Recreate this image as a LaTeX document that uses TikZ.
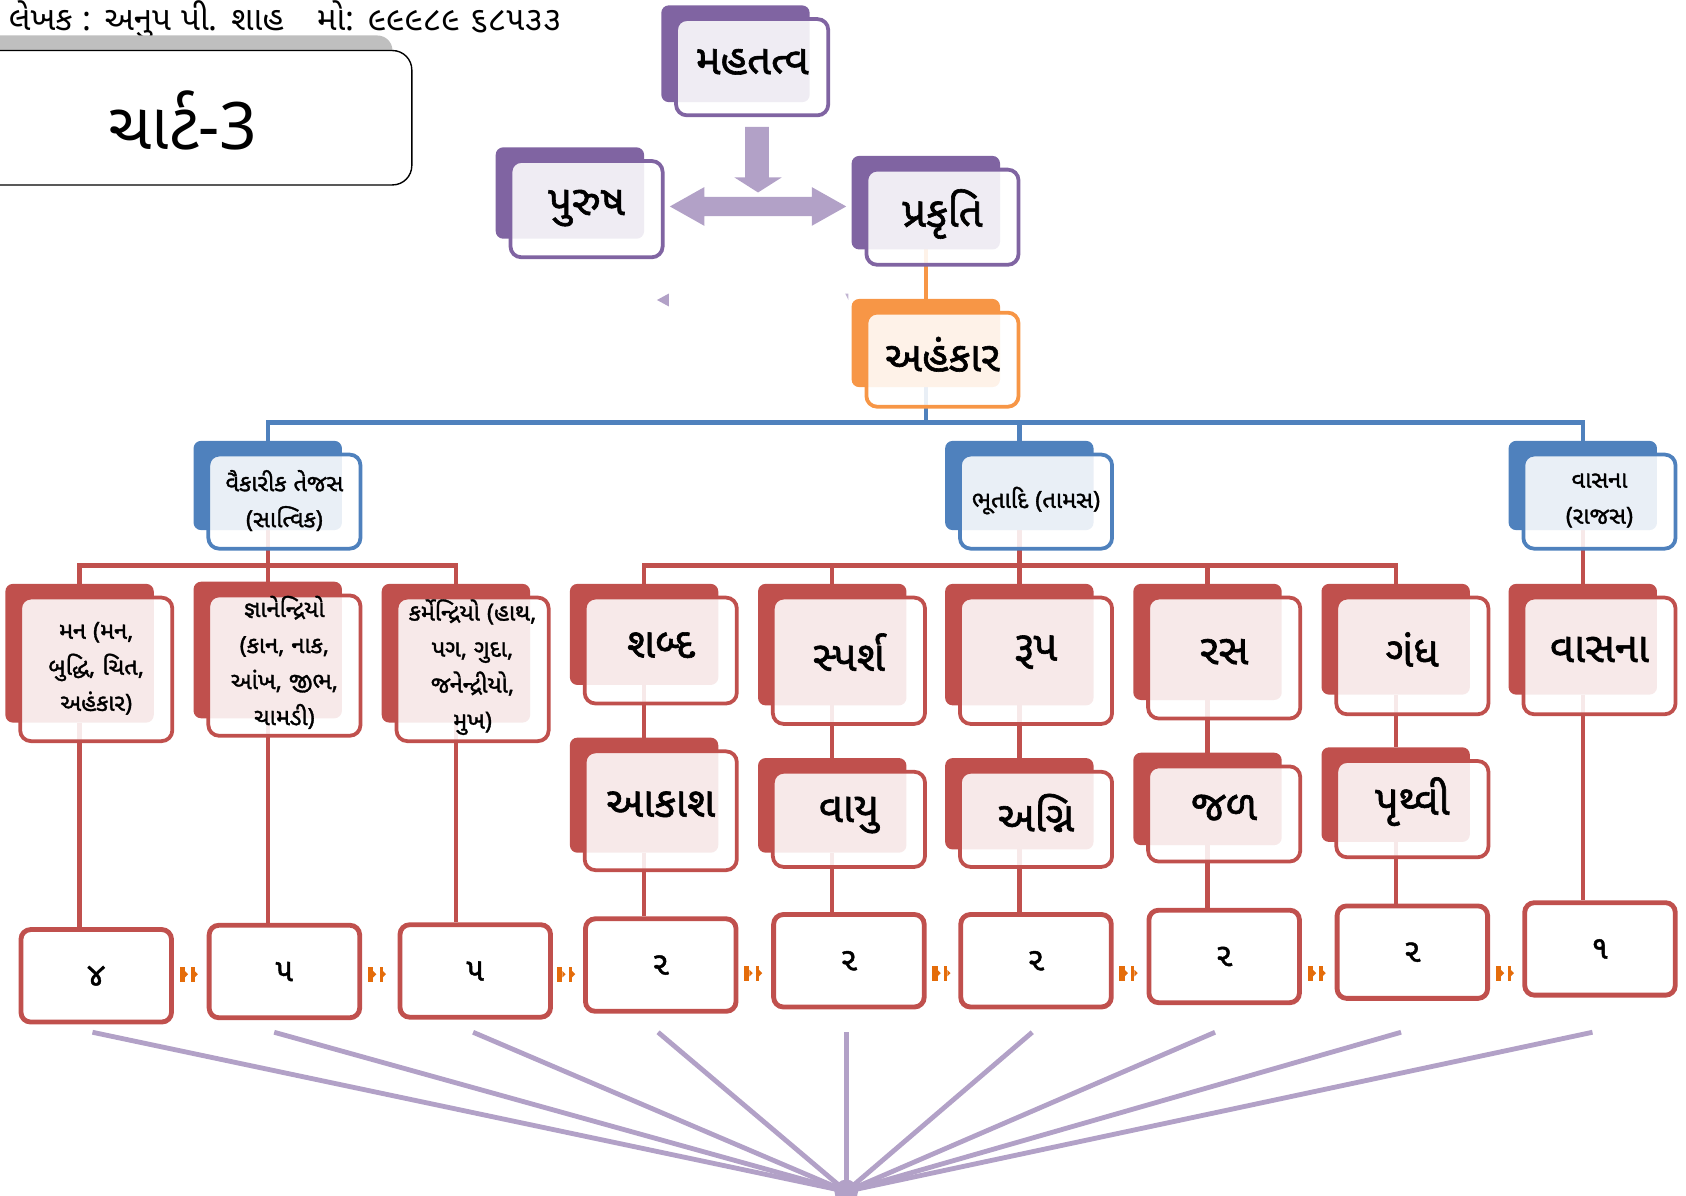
\documentclass[tikz,border=0pt]{standalone}
\usepackage{fontspec}
\newfontfamily\guj[Script=Gujarati]{Noto Sans Gujarati UI}
\newfontfamily\gujb[Script=Gujarati,FakeBold=1.4]{Noto Sans Gujarati UI}
\newfontfamily\latf{Noto Sans}
\newfontfamily\latb[FakeBold=1.4]{Noto Sans}
\newcommand\pl[1]{{\latf #1}}
\newcommand\pb[1]{{\latb #1}}
\definecolor{pur}{HTML}{8064A2}
\definecolor{lpur}{HTML}{B2A1C7}
\definecolor{org}{HTML}{F79646}
\definecolor{blu}{HTML}{4F81BD}
\definecolor{redd}{HTML}{C0504D}
\definecolor{dorg}{HTML}{E46C0A}
\definecolor{tabgray}{HTML}{BFBFBF}
\pgfdeclarelayer{bg}
\pgfsetlayers{bg,main}
\newcommand\smbox[9]{%
  \node[backr=#2, minimum height={#5}] (#1B) at (#3,#4) {};
  \node[frontr=#2, minimum height={#6-3.5}] (#1) at ({#3+13.75},{#4+12.75}) {};
  \node[#7] (#1T) at ([yshift=#8]#1.center) {#9};
}
\newcommand\oconn[3]{%
  \fill[dorg] ({#2-9},{#3-7}) rectangle ({#2-4},{#3+7});
  \fill[dorg] ({#2-4},{#3-3}) -- ({#2-1},{#3}) -- ({#2-4},{#3+3}) -- cycle;
  \fill[dorg] ({#2+2},{#3-7}) rectangle ({#2+5},{#3+7});
  \fill[dorg] ({#2+5},{#3-3}) -- ({#2+8},{#3}) -- ({#2+5},{#3+3}) -- cycle;
  \coordinate (#1) at (#2,#3);
}
\begin{document}
\begin{tikzpicture}[x=1pt,y=-1pt,
  backr/.style={fill=#1, draw=none, rounded corners=7pt, anchor=north west, inner sep=0pt, outer sep=0pt, minimum width=138},
  frontr/.style={draw=#1, fill=white, fill opacity=0.88, line width=3.5pt, rounded corners=10pt, anchor=north west, inner sep=0pt, outer sep=0pt, minimum width=141.5},
  big/.style={font=\gujb\fontsize{39}{43}\selectfont, inner sep=0pt, text=black},
  small/.style={font=\gujb\fontsize{22}{33.5}\selectfont, align=center, inner sep=0pt, text=black},
  numbox/.style={draw=redd, fill=white, line width=4.5pt, rounded corners=9pt, minimum width=140, minimum height=86, inner sep=0pt, font=\gujb\fontsize{30}{34}\selectfont},
  bline/.style={draw=blu, line width=4pt},
  rline/.style={draw=redd, line width=4pt},
  oline/.style={draw=org, line width=4pt},
  fan/.style={draw=lpur, line width=4.5pt},
]
\useasboundingbox (0,0) rectangle (1568,1112);

% header and title
\node[anchor=west, inner sep=0pt, font=\guj\fontsize{31}{34}\selectfont] (hdr) at (8,19)
  {લેખક \pl{:} અનુપ પી\pl{.} શાહ\quad મો\pl{:} ૯૯૯૮૯ ૬૮૫૩૩};
\fill[tabgray, rounded corners=14pt] (-30,33) rectangle (365,90);
\draw[fill=white, line width=1.3pt, rounded corners=18pt] (-30,47) rectangle (383,172);
\node[inner sep=0pt, font=\guj\fontsize{61}{65}\selectfont] (title) at (170,112) {ચાર્ટ\pl{-3}};

% top boxes
\smbox{mahat}{pur}{615}{5}{90}{93}{big}{5pt}{મહતત્વ}
\smbox{puru}{pur}{461}{137}{85}{93}{big}{1pt}{પુરુષ}
\smbox{prak}{pur}{792}{145}{87}{92}{big}{3pt}{પ્રકૃતિ}
\smbox{aham}{org}{792}{278}{82}{91}{big}{5pt}{અહંકાર}

% arrows
\fill[lpur] (693,118) -- (715,118) -- (715,165) -- (727,165) -- (705,179) -- (683,165) -- (693,165) -- cycle;
\fill[lpur] (623,192) -- (655,174) -- (655,183) -- (755,183) -- (755,174) -- (787,192)
  -- (755,210) -- (755,201) -- (655,201) -- (655,210) -- cycle;
\fill[lpur] (611,279) -- (622,273) -- (622,285) -- cycle;
\fill[lpur!80] (786,273) -- (789,273) -- (789,279) -- cycle;

% guna boxes
\smbox{vaik}{blu}{180}{410}{83}{91}{small}{1pt}{વૈકારીક તેજસ\\\pb{(}સાત્વિક\pb{)}}
\smbox{bhut}{blu}{879}{410}{83}{91}{small}{1pt}{ભૂતાદિ \pb{(}તામસ\pb{)}}
\smbox{vasr}{blu}{1403}{410}{83}{91}{small}{1pt}{વાસના\\\pb{(}રાજસ\pb{)}}

% row 1
\smbox{man}{redd}{5}{543}{129}{137}{small}{1pt}{મન \pb{(}મન\pb{,}\\બુદ્ધિ\pb{,} ચિત\pb{,}\\અહંકાર\pb{)}}
\smbox{jnan}{redd}{180}{541}{127}{134}{small}{3pt}{જ્ઞાનેન્દ્રિયો\\\pb{(}કાન\pb{,} નાક\pb{,}\\આંખ\pb{,} જીભ\pb{,}\\ચામડી\pb{)}}
\smbox{karm}{redd}{355}{543}{129}{137}{small}{2pt}{કર્મેન્દ્રિયો \pb{(}હાથ\pb{,}\\પગ\pb{,} ગુદા\pb{,}\\જનેન્દ્રીયો\pb{,}\\મુખ\pb{)}}
\smbox{shab}{redd}{530}{543}{94}{102}{big}{5pt}{શબ્દ}
\smbox{spar}{redd}{705}{543}{113}{121}{big}{8pt}{સ્પર્શ}
\smbox{rupa}{redd}{879}{543}{113}{121}{big}{8pt}{રૂપ}
\smbox{rasa}{redd}{1054}{543}{108}{116}{big}{6pt}{રસ}
\smbox{gand}{redd}{1229}{543}{103}{112}{big}{6pt}{ગંધ}
\smbox{vasn}{redd}{1403}{543}{103}{112}{big}{6pt}{વાસના}

% row 2
\smbox{akas}{redd}{530}{686}{107}{114}{big}{6pt}{આકાશ}
\smbox{vayu}{redd}{705}{705}{88}{92}{big}{4pt}{વાયુ}
\smbox{agni}{redd}{879}{705}{85}{92}{big}{6pt}{અગ્નિ}
\smbox{jala}{redd}{1054}{700}{86}{92}{big}{6pt}{જળ}
\smbox{pruth}{redd}{1229}{695}{88}{93}{big}{7pt}{પૃથ્વી}

% number boxes
\node[numbox] (n1) at (89.5,907.5) {૪};
\node[numbox] (n2) at (264.5,903.5) {૫};
\node[numbox] (n3) at (442,903) {૫};
\node[numbox] (n4) at (614.5,897.5) {૨};
\node[numbox] (n5) at (789.5,893.5) {૨};
\node[numbox] (n6) at (963.5,893.5) {૨};
\node[numbox] (n7) at (1138.5,889.5) {૨};
\node[numbox] (n8) at (1313.5,885.5) {૨};
\node[numbox] (n9) at (1488,882.5) {૧};

% small orange connectors
\oconn{o1}{176}{906}
\oconn{o2}{351}{906}
\oconn{o3}{527}{906}
\oconn{o4}{701}{905}
\oconn{o5}{876}{905}
\oconn{o6}{1050}{905}
\oconn{o7}{1225}{905}
\oconn{o8}{1400}{905}

% fan
\coordinate (hub) at (787,1108);
\coordinate (f1) at (86,960);
\coordinate (f2) at (255,960);
\coordinate (f3) at (440,960);
\coordinate (f4) at (612,960);
\coordinate (f5) at (787,960);
\coordinate (f6) at (960,960);
\coordinate (f7) at (1130,960);
\coordinate (f8) at (1303,960);
\coordinate (f9) at (1481,960);
\foreach \i in {1,...,9} {\draw[fan] (f\i) -- (hub);}
\fill[lpur] (hub) circle (11);

\coordinate (busB) at (0,393);
\coordinate (busR) at (0,526);

\begin{pgfonlayer}{bg}
  \draw[oline] (prakB.south) -- (ahamB.north);
  \draw[bline] (ahamB.south) -- (ahamB.center |- busB);
  \draw[bline] (vaikB.north) |- (vasrB.center |- busB) -- (vasrB.north);
  \draw[bline] (bhutB.center |- busB) -- (bhutB.north);
  % sattvik tree
  \draw[rline] (vaikB.south) -- (jnanB.north);
  \draw[rline] (manB.north) |- (karmB.center |- busR) -- (karmB.north);
  % tamas tree
  \draw[rline] (bhutB.south) -- (bhutB.center |- busR);
  \draw[rline] (shabB.north) |- (gandB.center |- busR) -- (gandB.north);
  \draw[rline] (sparB.center |- busR) -- (sparB.north);
  \draw[rline] (rupaB.center |- busR) -- (rupaB.north);
  \draw[rline] (rasaB.center |- busR) -- (rasaB.north);
  % rajas
  \draw[rline] (vasrB.south) -- (vasnB.north);
  % row1 -> row2
  \draw[rline] (shabB.south) -- (akasB.north);
  \draw[rline] (sparB.south) -- (vayuB.north);
  \draw[rline] (rupaB.south) -- (agniB.north);
  \draw[rline] (rasaB.south) -- (jalaB.north);
  \draw[rline] (gandB.south) -- (pruthB.north);
  % down to numbers
  \draw[rline] (manB.south) -- (manB.center |- n1.north);
  \draw[rline] (jnanB.south) -- (jnanB.center |- n2.north);
  \draw[rline] (karmB.south) -- (karmB.center |- n3.north);
  \draw[rline] (akasB.south) -- (akasB.center |- n4.north);
  \draw[rline] (vayuB.south) -- (vayuB.center |- n5.north);
  \draw[rline] (agniB.south) -- (agniB.center |- n6.north);
  \draw[rline] (jalaB.south) -- (jalaB.center |- n7.north);
  \draw[rline] (pruthB.south) -- (pruthB.center |- n8.north);
  \draw[rline] (vasnB.south) -- (vasnB.center |- n9.north);
\end{pgfonlayer}
\end{tikzpicture}
\end{document}
